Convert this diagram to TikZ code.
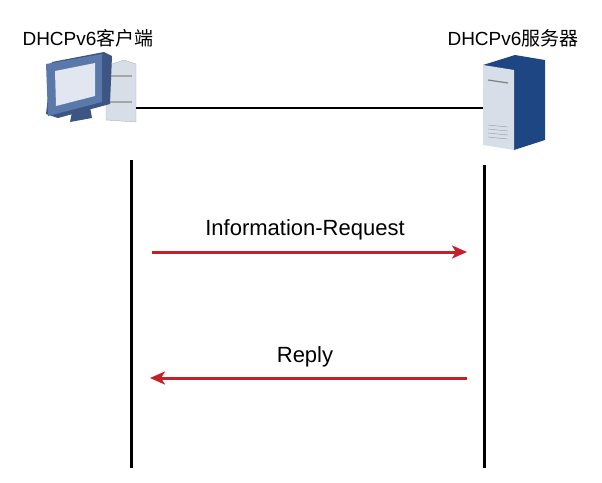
\documentclass[tikz,border=0pt]{standalone}
\usepackage{fontspec}
\setmainfont{Liberation Sans}
\newfontfamily\cjk{Noto Sans CJK SC}
\usetikzlibrary{arrows.meta}
\definecolor{arr}{RGB}{200,30,40}
\definecolor{mon}{RGB}{90,120,170}
\definecolor{mondk}{RGB}{60,85,130}
\definecolor{scr}{RGB}{225,230,240}
\definecolor{srvdk}{RGB}{30,70,130}
\definecolor{srvlt}{RGB}{215,222,232}
\begin{document}
\begin{tikzpicture}[x=1pt,y=-1pt,
 lbl/.style={font=\fontsize{19}{22}\selectfont},
 msg/.style={arr,line width=3pt,-{Stealth[length=15pt,width=13pt,inset=4pt]}},
 life/.style={line width=3pt}]
\useasboundingbox (0,0) rectangle (602,482);
% client tower
\fill[srvlt,draw=gray!60] (106,66) -- (124,60) -- (136,64) -- (136,122) -- (106,120) -- cycle;
\draw[gray!70,line width=1.2pt] (110,76)--(132,76) (110,102)--(132,102);
% client monitor
\fill[mondk] (52,62) -- (104,52) -- (112,56) -- (110,104) -- (58,118) -- (46,114) -- cycle;
\fill[mon] (46,64) -- (102,54) -- (102,102) -- (48,116) -- cycle;
\fill[scr] (55,71) -- (95,63) -- (95,96) -- (56,106) -- cycle;
\fill[mondk] (72,112) -- (90,107) -- (92,118) -- (70,122) -- cycle;
\coordinate (cl) at (136,108);
% server
\fill[srvdk] (483,65) -- (515,55) -- (545,60) -- (545,140) -- (514,150) -- cycle;
\fill[srvlt] (483,65) -- (514,70) -- (514,150) -- (483,145) -- cycle;
\draw[gray,line width=1.2pt] (488,80)--(508,83);
\foreach \y in {125,129,133,137} \draw[gray!80] (488,\y)--(508,\y+2);
\coordinate (sv) at (483,108);
\draw[line width=2.2pt] (cl) -- (sv);
\node[lbl] (tc) at (88,38) {DHCPv6{\cjk 客户端}};
\node[lbl] (ts) at (513,38) {DHCPv6{\cjk 服务器}};
\coordinate (c1) at (131,160); \coordinate (c2) at (131,468);
\coordinate (s1) at (484,165); \coordinate (s2) at (484,468);
\draw[life] (c1) -- (c2);
\draw[life] (s1) -- (s2);
\coordinate (a1) at (152,252); \coordinate (a2) at (467,252);
\coordinate (b1) at (467,378); \coordinate (b2) at (150,378);
\draw[msg] (a1) -- (a2);
\draw[msg] (b1) -- (b2);
\node[font=\fontsize{22}{26}\selectfont] (m1) at (305,230) {Information-Request};
\node[font=\fontsize{22}{26}\selectfont] (m2) at (305,357) {Reply};
\end{tikzpicture}
\end{document}
